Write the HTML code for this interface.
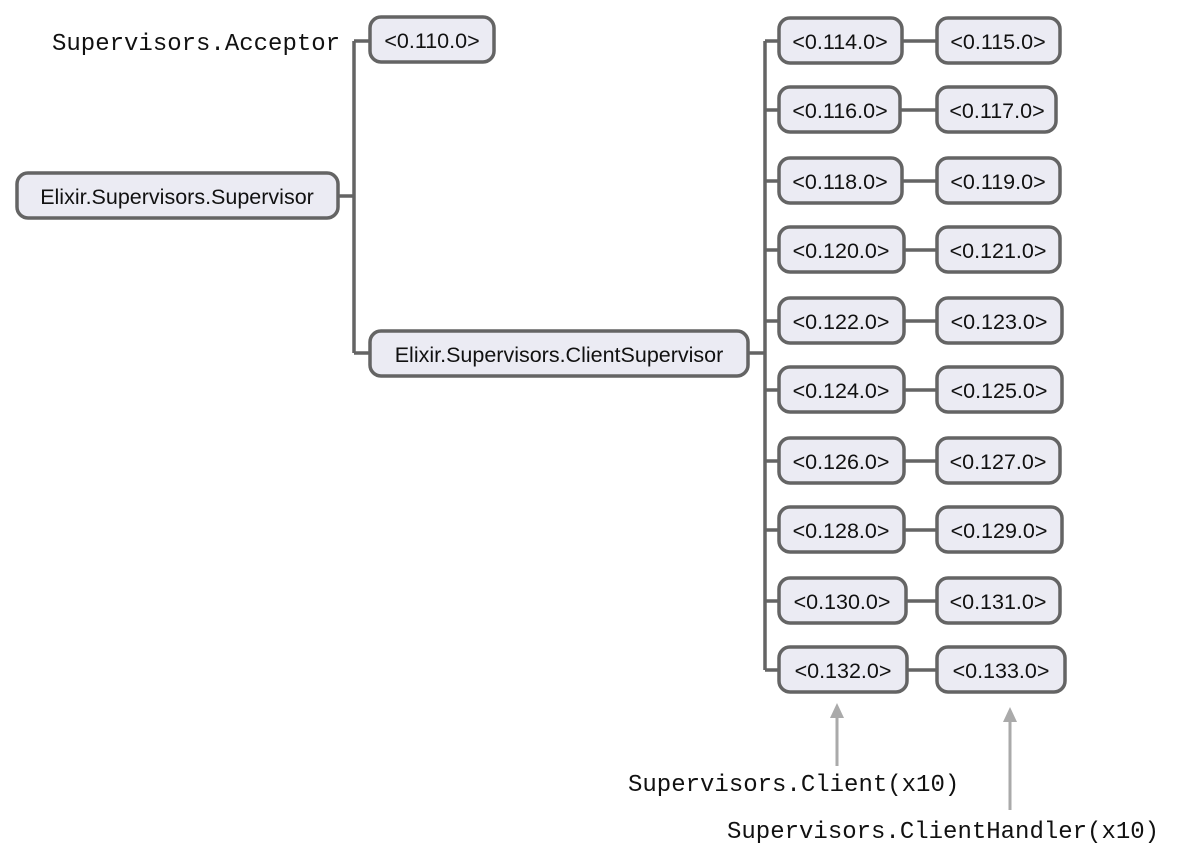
<!DOCTYPE html>
<html><head><meta charset="utf-8"><style>
html,body{margin:0;padding:0;background:#fff;}
svg{display:block}
.n{fill:#ebebf3;stroke:#646464;stroke-width:3.5}
.t{font-family:"Liberation Sans",sans-serif;font-size:21.5px;fill:#111;text-anchor:middle;dominant-baseline:central}
.m{font-family:"Liberation Mono",monospace;font-size:24px;fill:#111}
.l{stroke:#646464;stroke-width:3.5;fill:none}
.a{stroke:#aaa;stroke-width:3;fill:none}
</style></head><body>
<svg width="1182" height="868" viewBox="0 0 1182 868">
<text class="m" x="52" y="50">Supervisors.Acceptor</text>
<text class="m" x="628" y="791">Supervisors.Client(x10)</text>
<text class="m" x="727" y="838">Supervisors.ClientHandler(x10)</text>
<path class="l" d="M338 196 H354 M354 41 V353 M354 41 H370 M354 353 H370 M748 353 H765 M765 41 V670"/>
<rect class="n" x="17" y="173" width="321" height="45" rx="11"/>
<text class="t" x="177" y="197">Elixir.Supervisors.Supervisor</text>
<rect class="n" x="370" y="17" width="124" height="45" rx="11"/>
<text class="t" x="432" y="41">&lt;0.110.0&gt;</text>
<rect class="n" x="370" y="331" width="378" height="45" rx="11"/>
<text class="t" x="559" y="355">Elixir.Supervisors.ClientSupervisor</text>
<g id="rows">
<path class="l" d="M765 41H779 M902 41H937"/><rect class="n" x="779" y="18" width="123" height="45" rx="11"/><text class="t" x="840" y="42">&lt;0.114.0&gt;</text><rect class="n" x="937" y="18" width="123" height="45" rx="11"/><text class="t" x="998" y="42">&lt;0.115.0&gt;</text>
<path class="l" d="M765 110H779 M900 110H937"/><rect class="n" x="779" y="87" width="121" height="45" rx="11"/><text class="t" x="840" y="111">&lt;0.116.0&gt;</text><rect class="n" x="937" y="87" width="119" height="45" rx="11"/><text class="t" x="997" y="111">&lt;0.117.0&gt;</text>
<path class="l" d="M765 181H779 M902 181H937"/><rect class="n" x="779" y="158" width="123" height="45" rx="11"/><text class="t" x="840" y="182">&lt;0.118.0&gt;</text><rect class="n" x="937" y="158" width="123" height="45" rx="11"/><text class="t" x="998" y="182">&lt;0.119.0&gt;</text>
<path class="l" d="M765 250H779 M904 250H937"/><rect class="n" x="779" y="227" width="125" height="45" rx="11"/><text class="t" x="841" y="251">&lt;0.120.0&gt;</text><rect class="n" x="937" y="227" width="123" height="45" rx="11"/><text class="t" x="998" y="251">&lt;0.121.0&gt;</text>
<path class="l" d="M765 321H779 M904 321H937"/><rect class="n" x="779" y="298" width="125" height="45" rx="11"/><text class="t" x="841" y="322">&lt;0.122.0&gt;</text><rect class="n" x="937" y="298" width="125" height="45" rx="11"/><text class="t" x="999" y="322">&lt;0.123.0&gt;</text>
<path class="l" d="M765 390H779 M904 390H937"/><rect class="n" x="779" y="367" width="125" height="45" rx="11"/><text class="t" x="841" y="391">&lt;0.124.0&gt;</text><rect class="n" x="937" y="367" width="125" height="45" rx="11"/><text class="t" x="999" y="391">&lt;0.125.0&gt;</text>
<path class="l" d="M765 461H779 M904 461H937"/><rect class="n" x="779" y="438" width="125" height="45" rx="11"/><text class="t" x="841" y="462">&lt;0.126.0&gt;</text><rect class="n" x="937" y="438" width="123" height="45" rx="11"/><text class="t" x="998" y="462">&lt;0.127.0&gt;</text>
<path class="l" d="M765 530H779 M904 530H937"/><rect class="n" x="779" y="507" width="125" height="45" rx="11"/><text class="t" x="841" y="531">&lt;0.128.0&gt;</text><rect class="n" x="937" y="507" width="125" height="45" rx="11"/><text class="t" x="999" y="531">&lt;0.129.0&gt;</text>
<path class="l" d="M765 601H779 M906 601H937"/><rect class="n" x="779" y="578" width="127" height="45" rx="11"/><text class="t" x="842" y="602">&lt;0.130.0&gt;</text><rect class="n" x="937" y="578" width="123" height="45" rx="11"/><text class="t" x="998" y="602">&lt;0.131.0&gt;</text>
<path class="l" d="M765 670H779 M907 670H937"/><rect class="n" x="779" y="647" width="128" height="45" rx="11"/><text class="t" x="843" y="671">&lt;0.132.0&gt;</text><rect class="n" x="937" y="647" width="128" height="45" rx="11"/><text class="t" x="1001" y="671">&lt;0.133.0&gt;</text>
</g>
<path class="a" d="M837 766 V716"/><polygon points="837,703 830,718 844,718" fill="#aaa"/>
<path class="a" d="M1010 810 V720"/><polygon points="1010,707 1003,722 1017,722" fill="#aaa"/>
</svg>
</body></html>
